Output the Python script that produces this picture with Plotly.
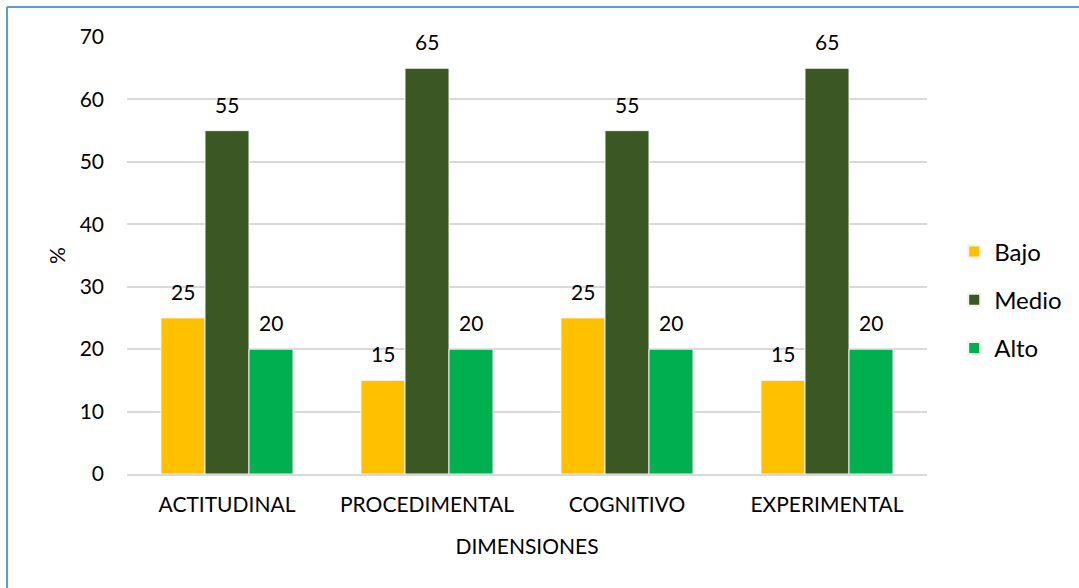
import plotly.graph_objects as go

categories = ["ACTITUDINAL", "PROCEDIMENTAL", "COGNITIVO", "EXPERIMENTAL"]
bajo = [25, 15, 25, 15]
medio = [55, 65, 55, 65]
alto = [20, 20, 20, 20]
series_names = ["Bajo", "Medio", "Alto"]
series_colors = ["#FFC000", "#3B5724", "#00B050"]
y_ticks = [0, 10, 20, 30, 40, 50, 60, 70]

W, H = 1079, 588
L, R, T, B = 127, 152, 37, 114
plot_w = W - L - R
plot_h = H - T - B

FONT = "Lato"
FS = 21

fig = go.Figure()
series_values = [bajo, medio, alto]
for name, vals, col in zip(series_names, series_values, series_colors):
    fig.add_trace(go.Bar(
        name=name, x=categories, y=vals, legendgroup=name,
        marker=dict(color=col, line=dict(color="#F2F2F2", width=1)),
    ))

# value labels above each bar
group_w = plot_w / len(categories) * (1 - 0.34)
bar_w = group_w / len(series_names)
annotations = []
for si, vals in enumerate(series_values):
    shift = (si - 1) * bar_w
    for cat, v in zip(categories, vals):
        annotations.append(dict(
            x=cat, y=v, xref="x", yref="y", text=str(v),
            showarrow=False, xshift=shift, yshift=12, yanchor="bottom",
            font=dict(family=FONT, size=FS, color="#000000"),
        ))

# border frame (top and left edges)
px = lambda p: (p - L) / plot_w
py = lambda p: (H - B - p) / plot_h
shapes = [
    dict(type="line", xref="paper", yref="paper", x0=px(7), x1=px(W + 5), y0=py(7), y1=py(7),
         line=dict(color="#5B9BD5", width=2)),
    dict(type="line", xref="paper", yref="paper", x0=px(7), x1=px(7), y0=py(7), y1=py(H + 5),
         line=dict(color="#5B9BD5", width=2)),
]

fig.update_layout(
    width=W, height=H,
    margin=dict(l=L, r=R, t=T, b=B),
    paper_bgcolor="white", plot_bgcolor="white",
    barmode="group", bargap=0.34, bargroupgap=0,
    font=dict(family=FONT, size=FS, color="#000000"),
    xaxis=dict(
        title=dict(text="DIMENSIONES", font=dict(family=FONT, size=FS), standoff=24),
        showgrid=False, showline=True, linecolor="#D9D9D9", linewidth=2,
        ticks="", tickfont=dict(family=FONT, size=FS), ticklabelstandoff=11,
    ),
    yaxis=dict(
        title=dict(text="%", font=dict(family=FONT, size=FS), standoff=8),
        range=[0, 70], tickvals=y_ticks, showgrid=True, gridcolor="#D9D9D9", gridwidth=2,
        zeroline=False, ticks="", ticklen=0, tickfont=dict(family=FONT, size=FS),
        ticklabelstandoff=22,
    ),
    legend=dict(
        x=1.034, xanchor="left", xref="paper", y=py(300), yanchor="middle",
        font=dict(family=FONT, size=24), itemsizing="constant",
        tracegroupgap=14, bgcolor="rgba(0,0,0,0)", traceorder="grouped",
    ),
    annotations=annotations,
    shapes=shapes,
)

fig.write_html("out.html")
